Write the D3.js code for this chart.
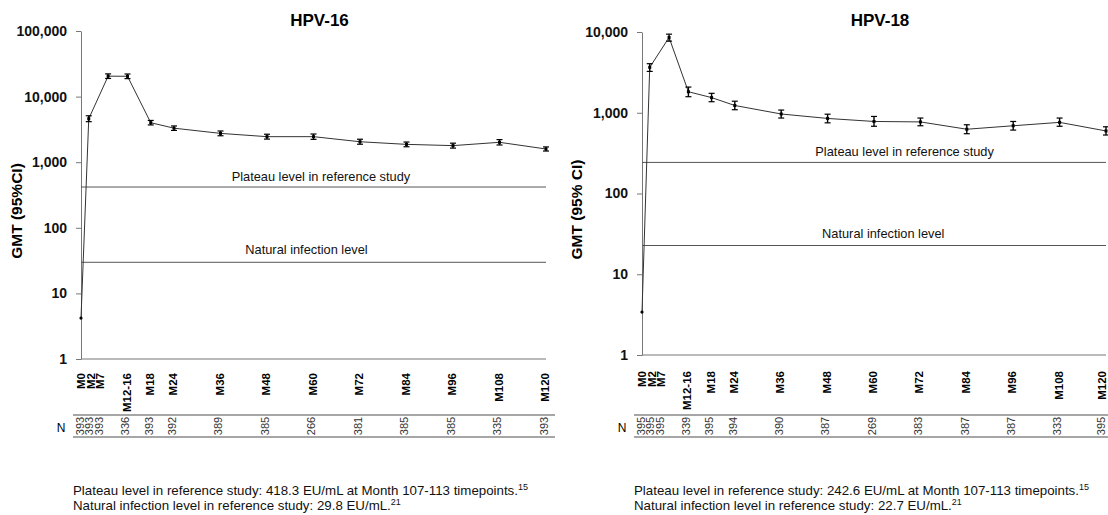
<!DOCTYPE html>
<html>
<head>
<meta charset="utf-8">
<script src="https://cdn.jsdelivr.net/npm/d3@7"></script>
<style>
  body { margin: 0; background: #fff; }
  svg { display: block; font-family: "Liberation Sans", Arial, sans-serif; }
</style>
</head>
<body>
<svg id="chart" width="1108" height="515"></svg>
<script>
// timepoints (months since first dose), M12-16 plotted at month 12
let months = [0, 2, 7, 12, 18, 24, 36, 48, 60, 72, 84, 96, 108, 120];
let timepointLabels = ['M0', 'M2', 'M7', 'M12-16', 'M18', 'M24', 'M36', 'M48', 'M60', 'M72', 'M84', 'M96', 'M108', 'M120'];

let hpv16Gmt   = [4.2, 4600, 20500, 20400, 4000, 3300, 2750, 2450, 2450, 2050, 1870, 1790, 2010, 1590];
let hpv16Lower = [3.9, 4150, 18900, 18800, 3700, 3050, 2530, 2250, 2230, 1880, 1720, 1640, 1830, 1480];
let hpv16Upper = [4.5, 5100, 22200, 22100, 4330, 3570, 2990, 2670, 2690, 2240, 2030, 1950, 2210, 1710];
let hpv16N     = [393, 393, 393, 336, 393, 392, 389, 385, 266, 381, 385, 385, 335, 393];

let hpv18Gmt   = [3.4, 3650, 8550, 1820, 1540, 1230, 965, 850, 780, 770, 625, 690, 760, 595];
let hpv18Lower = [3.1, 3250, 7700, 1580, 1370, 1090, 860, 750, 680, 690, 550, 610, 680, 530];
let hpv18Upper = [3.7, 4050, 9400, 2080, 1740, 1390, 1080, 960, 900, 860, 710, 780, 860, 670];
let hpv18N     = [395, 395, 395, 339, 395, 394, 390, 387, 269, 383, 387, 387, 333, 395];

let hpv16Ticks = [1, 10, 100, 1000, 10000, 100000];
let hpv18Ticks = [1, 10, 100, 1000, 10000];

let hpv16Plateau = 418.3, hpv16Natural = 29.8;
let hpv18Plateau = 242.6, hpv18Natural = 22.7;

let plateauText = 'Plateau level in reference study';
let naturalText = 'Natural infection level';

let width = 1108;

let panels = [
  {
    title: 'HPV-16', yTitle: 'GMT (95%CI)',
    gmt: hpv16Gmt, lower: hpv16Lower, upper: hpv16Upper, n: hpv16N,
    ticks: hpv16Ticks, plateau: hpv16Plateau, natural: hpv16Natural,
    left: 81, right: 546, top: 31, bottom: 359, tableEnd: 555,
    plateauAt: 0.516, naturalAt: 0.485, yTitleX: 17, labelTop: 373,
    foot: [['Plateau level in reference study: 418.3 EU/mL at Month 107-113 timepoints.', '15'],
           ['Natural infection level in reference study: 29.8 EU/mL.', '21']]
  },
  {
    title: 'HPV-18', yTitle: 'GMT (95% CI)',
    gmt: hpv18Gmt, lower: hpv18Lower, upper: hpv18Upper, n: hpv18N,
    ticks: hpv18Ticks, plateau: hpv18Plateau, natural: hpv18Natural,
    left: 642, right: 1106, top: 32, bottom: 355, tableEnd: width,
    plateauAt: 0.566, naturalAt: 0.52, yTitleX: 577, labelTop: 371,
    foot: [['Plateau level in reference study: 242.6 EU/mL at Month 107-113 timepoints.', '15'],
           ['Natural infection level in reference study: 22.7 EU/mL.', '21']]
  }
];

let svg = d3.select('#chart');
let clusterStep = 9.5;

panels.forEach(p => {
  let xScale = d3.scaleLinear()
                  .domain([0, 120])
                  .range([p.left, p.right]);

  let yScale = d3.scaleLog()
                  .domain([1, d3.max(p.ticks)])
                  .range([p.bottom, p.top]);

  let g = svg.append('g');

  // title
  g.append('text')
    .attr('x', (p.left + p.right) / 2 + 6)
    .attr('y', 26)
    .style('text-anchor', 'middle')
    .style('font-weight', 'bold')
    .style('font-size', '17px')
    .text(p.title);

  // y axis
  let yAxis = g.append('g')
      .attr('transform', `translate(${p.left}, 0)`)
    .call(d3.axisLeft(yScale)
      .tickValues(p.ticks)
      .tickFormat(d3.format(','))
      .tickSize(5)
      .tickSizeOuter(0)
      .tickPadding(9));
  yAxis.selectAll('path, line').attr('stroke', '#777');
  yAxis.selectAll('text')
    .style('font-family', '"Liberation Sans", Arial, sans-serif')
    .style('font-size', '14px')
    .style('font-weight', 'bold')
    .attr('fill', '#111');

  g.append('text')
    .attr('transform', `translate(${p.yTitleX}, ${(p.top + p.bottom) / 2 + 16}) rotate(-90)`)
    .attr('dy', '0.35em')
    .style('text-anchor', 'middle')
    .style('font-weight', 'bold')
    .style('font-size', '15.5px')
    .text(p.yTitle);

  // x baseline
  g.append('line')
    .attr('x1', p.left).attr('x2', p.right)
    .attr('y1', p.bottom).attr('y2', p.bottom)
    .attr('stroke', '#777');

  // reference levels
  [[p.plateau, plateauText, p.plateauAt, -6], [p.natural, naturalText, p.naturalAt, -8]].forEach(([v, label, at, off]) => {
    g.append('line')
      .attr('x1', p.left).attr('x2', p.right)
      .attr('y1', yScale(v)).attr('y2', yScale(v))
      .attr('stroke', '#555');
    g.append('text')
      .attr('x', p.left + (p.right - p.left) * at)
      .attr('y', yScale(v) + off)
      .style('text-anchor', 'middle')
      .style('font-size', '12.8px')
      .attr('fill', '#111')
      .text(label);
  });

  // GMT line
  let rows = months.map((m, i) => ({m, v: p.gmt[i], lo: p.lower[i], hi: p.upper[i], n: p.n[i], label: timepointLabels[i]}));

  g.append('path')
    .datum(rows)
    .attr('d', d3.line().x(d => xScale(d.m)).y(d => yScale(d.v)))
    .attr('fill', 'none')
    .attr('stroke', '#333')
    .attr('stroke-width', 1);

  let bars = g.selectAll('.ci')
    .data(rows.filter(d => d.m > 0))
    .enter()
    .append('g')
      .classed('ci', true);
  bars.append('line')
    .attr('x1', d => xScale(d.m)).attr('x2', d => xScale(d.m))
    .attr('y1', d => yScale(d.lo)).attr('y2', d => yScale(d.hi))
    .attr('stroke', '#000').attr('stroke-width', 1.4);
  bars.selectAll('.cap')
    .data(d => [[d.m, d.lo], [d.m, d.hi]])
    .enter()
    .append('line')
      .attr('x1', d => xScale(d[0]) - 3).attr('x2', d => xScale(d[0]) + 3)
      .attr('y1', d => yScale(d[1])).attr('y2', d => yScale(d[1]))
      .attr('stroke', '#000').attr('stroke-width', 1.2);
  bars.append('rect')
    .attr('x', d => xScale(d.m) - 1.5)
    .attr('y', d => yScale(d.v) - 1.5)
    .attr('width', 3).attr('height', 3)
    .attr('fill', '#000');

  g.append('circle')
    .attr('cx', xScale(rows[0].m))
    .attr('cy', yScale(rows[0].v))
    .attr('r', 1.6)
    .attr('fill', '#000');

  // first visits crowd together: stack their labels side by side;
  // keep the last ones inside the page
  let labelX = (d, i) => d.m < 12 ? p.left + i * clusterStep : Math.min(xScale(d.m) - 1, width - 6);

  g.selectAll('.tp')
    .data(rows)
    .enter()
    .append('text')
      .attr('transform', (d, i) => `translate(${labelX(d, i)}, ${p.labelTop}) rotate(-90)`)
      .attr('dy', '0.35em')
      .style('text-anchor', 'end')
      .style('font-weight', 'bold')
      .style('font-size', '11.5px')
      .text(d => d.label);

  // N table
  [415, 437].forEach(y => {
    g.append('line')
      .attr('x1', p.left - 8).attr('x2', p.tableEnd)
      .attr('y1', y).attr('y2', y)
      .attr('stroke', '#888')
      .attr('stroke-width', 1.5);
  });

  g.append('text')
    .attr('x', p.left - 20)
    .attr('y', 432)
    .style('text-anchor', 'middle')
    .style('font-size', '12px')
    .text('N');

  g.selectAll('.nval')
    .data(rows)
    .enter()
    .append('text')
      .attr('transform', (d, i) => `translate(${labelX(d, i) - 1}, 426) rotate(-90)`)
      .attr('dy', '0.35em')
      .style('text-anchor', 'middle')
      .style('font-size', '11px')
      .attr('fill', '#333')
      .text(d => d.n);

  // footnotes
  p.foot.forEach(([line, sup], i) => {
    let t = g.append('text')
      .attr('x', p.left - 8)
      .attr('y', 495 + i * 15)
      .style('font-size', '13.3px')
      .attr('fill', '#111');
    t.append('tspan').text(line);
    t.append('tspan')
      .attr('dy', -5)
      .style('font-size', '9px')
      .text(sup);
  });
});
</script>
</body>
</html>
